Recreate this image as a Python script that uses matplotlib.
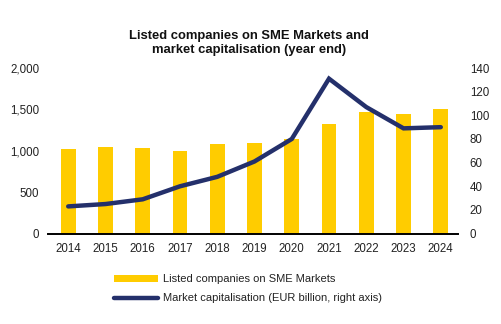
import numpy as np
import matplotlib.pyplot as plt
from matplotlib.lines import Line2D
from matplotlib.patches import Patch

# Year-end figures for SME growth markets
years = ['2014', '2015', '2016', '2017', '2018', '2019', '2020', '2021', '2022', '2023', '2024']
listed_companies = [1027, 1041, 1038, 1003, 1078, 1090, 1148, 1330, 1463, 1445, 1510]
market_cap = [23, 25, 29, 40, 48, 61, 80, 131, 107, 89, 90]

YELLOW = '#FFCC00'
NAVY = '#24306B'

plt.rcParams['font.family'] = ['Liberation Sans', 'DejaVu Sans']

fig = plt.figure(figsize=(5.01, 3.24), dpi=100)
ax = fig.add_axes([0.096, 0.279, 0.818, 0.511])
ax2 = ax.twinx()

x = np.arange(len(years))
ax.bar(x, listed_companies, width=0.4, color=YELLOW, zorder=2)
ax2.plot(x, market_cap, color=NAVY, linewidth=3.2, solid_capstyle='round',
         solid_joinstyle='miter', zorder=3)

ax.set_xlim(-0.54, 10.46)
ax.set_ylim(0, 2000)
ax.set_yticks([0, 500, 1000, 1500, 2000])
ax.set_yticklabels(['0', '500', '1,000', '1,500', '2,000'])
ax2.set_ylim(0, 140)
ax2.set_yticks(range(0, 141, 20))
ax.set_xticks(x)
ax.set_xticklabels(years)

for a in (ax, ax2):
    for side in ('top', 'left', 'right', 'bottom'):
        a.spines[side].set_visible(False)
    a.tick_params(length=0, labelsize=8.3, colors='#222222')
ax.spines['bottom'].set_visible(True)
ax.spines['bottom'].set_linewidth(1.4)
ax.spines['bottom'].set_color('black')
ax.tick_params(axis='x', pad=7)
ax.tick_params(axis='y', pad=6.5)
ax2.tick_params(axis='y', pad=8.5)

ax.set_zorder(ax2.get_zorder() - 1)
ax.patch.set_visible(False)

fig.text(0.497, 0.867, 'Listed companies on SME Markets and\nmarket capitalisation (year end)',
         ha='center', va='center', fontsize=9.4, fontweight='bold', color='#111111',
         linespacing=1.3)

handles = [Patch(facecolor=YELLOW, edgecolor='none'),
           Line2D([0], [0], color=NAVY, linewidth=3.2, solid_capstyle='round')]
labels = ['Listed companies on SME Markets', 'Market capitalisation (EUR billion, right axis)']
leg = fig.legend(handles, labels, loc='upper left', bbox_to_anchor=(0.218, 0.168),
                 frameon=False, fontsize=8.0, handlelength=4.0, handleheight=0.6,
                 handletextpad=0.45, labelspacing=0.85, borderaxespad=0)
for t in leg.get_texts():
    t.set_color('#222222')

fig.savefig('out.png', dpi=100)
